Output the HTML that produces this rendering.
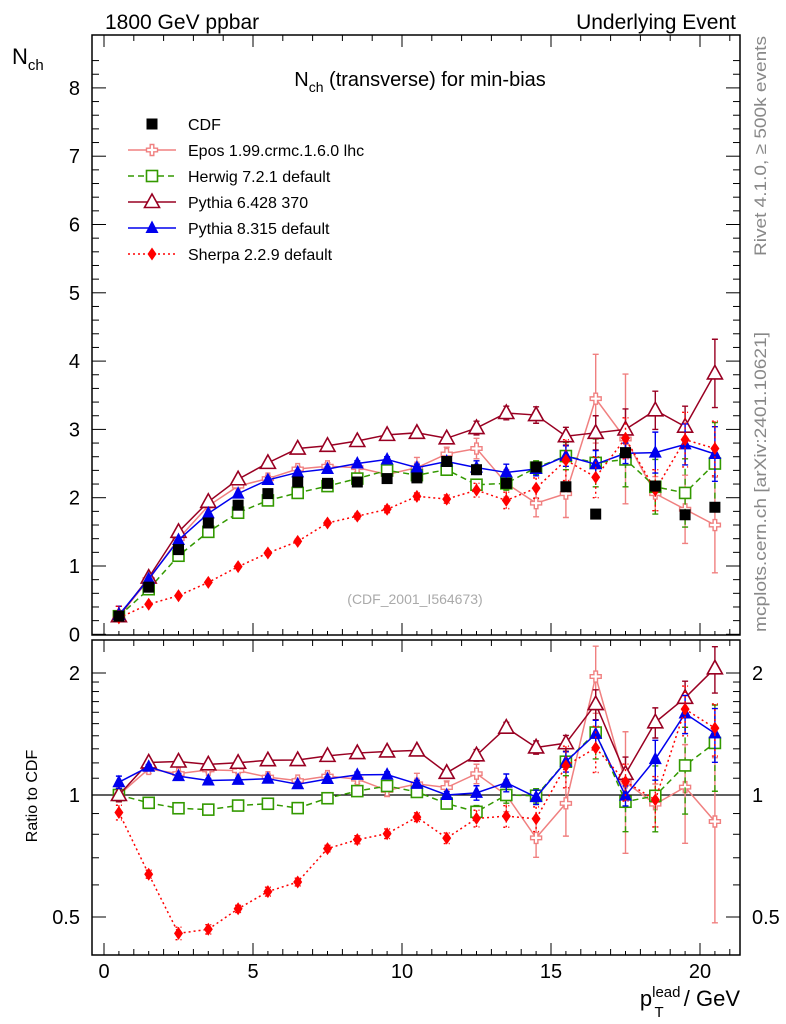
<!DOCTYPE html>
<html><head><meta charset="utf-8"><style>
body{margin:0;background:#fff;}
svg{display:block;font-family:"Liberation Sans",sans-serif;}
</style></head><body>
<svg id="chart" width="786" height="1024" viewBox="0 0 786 1024" xmlns="http://www.w3.org/2000/svg">
<g id="static">
<text x="105" y="29" font-size="21">1800 GeV ppbar</text>
<text x="736" y="29" font-size="21" text-anchor="end">Underlying Event</text>
<text x="12" y="64" font-size="22">N<tspan font-size="15" dy="6">ch</tspan></text>
<text x="420" y="86" font-size="20" text-anchor="middle">N<tspan font-size="14" dy="6">ch</tspan><tspan dy="-6"> (transverse) for min-bias</tspan></text>
<text x="415" y="604" font-size="14" fill="#aaa" text-anchor="middle">(CDF_2001_I564673)</text>
<text transform="translate(766,256) rotate(-90)" font-size="17" fill="#888" textLength="220" lengthAdjust="spacingAndGlyphs">Rivet 4.1.0, ≥ 500k events</text>
<text transform="translate(766,632) rotate(-90)" font-size="17" fill="#888" textLength="300" lengthAdjust="spacingAndGlyphs">mcplots.cern.ch [arXiv:2401.10621]</text>
<text transform="translate(37,796) rotate(-90)" font-size="16" text-anchor="middle">Ratio to CDF</text>
<text x="740" y="1006" font-size="22" text-anchor="end">p<tspan font-size="15" dy="-9">lead</tspan><tspan font-size="15" dx="-26" dy="20">T</tspan><tspan dy="-11" dx="14"> / GeV</tspan></text>
</g>
</svg>
<script>
const xCenters=[0.5,1.5,2.5,3.5,4.5,5.5,6.5,7.5,8.5,9.5,10.5,11.5,12.5,13.5,14.5,15.5,16.5,17.5,18.5,19.5,20.5];
const cdf=[0.265,0.69,1.24,1.63,1.89,2.06,2.23,2.21,2.23,2.28,2.29,2.53,2.41,2.21,2.45,2.16,1.76,2.66,2.17,1.75,1.86];
const epos=[0.265,0.80,1.40,1.88,2.17,2.28,2.42,2.46,2.44,2.34,2.44,2.64,2.72,2.21,1.92,2.06,3.45,2.86,2.06,1.83,1.60];
const eposErr=[0.01,0.02,0.02,0.03,0.03,0.04,0.04,0.05,0.06,0.08,0.15,0.1,0.15,0.2,0.2,0.35,0.65,0.95,0.25,0.5,0.7];
const herwig=[0.265,0.66,1.15,1.50,1.78,1.96,2.07,2.17,2.28,2.40,2.33,2.41,2.19,2.21,2.44,2.61,2.51,2.56,2.16,2.07,2.50];
const herwigErr=[0.01,0.01,0.02,0.02,0.02,0.03,0.03,0.03,0.04,0.05,0.05,0.05,0.08,0.1,0.1,0.2,0.35,0.4,0.4,0.5,0.6];
const pythia6=[0.265,0.83,1.50,1.94,2.27,2.51,2.72,2.76,2.83,2.92,2.95,2.87,3.02,3.24,3.21,2.90,2.95,3.00,3.28,3.04,3.82];
const pythia6Err=[0.01,0.01,0.02,0.02,0.02,0.03,0.03,0.03,0.04,0.04,0.05,0.05,0.1,0.1,0.12,0.13,0.25,0.3,0.28,0.3,0.5];
const pythia8=[0.285,0.81,1.38,1.77,2.06,2.26,2.37,2.42,2.50,2.56,2.44,2.53,2.44,2.37,2.42,2.61,2.49,2.65,2.66,2.78,2.64];
const pythia8Err=[0.01,0.01,0.02,0.02,0.02,0.03,0.03,0.03,0.04,0.04,0.05,0.05,0.1,0.12,0.1,0.15,0.2,0.15,0.3,0.3,0.4];
const sherpa=[0.24,0.44,0.565,0.76,0.99,1.19,1.36,1.63,1.73,1.83,2.02,1.98,2.11,1.96,2.14,2.55,2.30,2.87,2.11,2.85,2.72];
const sherpaErr=[0.01,0.01,0.02,0.02,0.02,0.03,0.03,0.03,0.04,0.05,0.05,0.06,0.1,0.12,0.15,0.3,0.3,0.3,0.3,0.4,0.4];
const mainTicks=[0,1,2,3,4,5,6,7,8];
const ratioTickLabels=[0.5,1,2];
const xTickLabels=[0,5,10,15,20];

const NS="http://www.w3.org/2000/svg";
const svg=document.getElementById('chart');
const L=92,R=740,MT=35,MB=635,RT=640,RB=955;
const X=v=>104+v*29.8;
const Y=v=>634.3-v*68.3;
const RY=r=>795-122*Math.log2(r);
function mk(tag,attrs,parent){const e=document.createElementNS(NS,tag);for(const k in attrs)e.setAttribute(k,attrs[k]);(parent||svg).appendChild(e);return e;}

let f1=mk('rect',{x:L,y:MT,width:R-L,height:MB-MT,fill:'none',stroke:'#000','stroke-width':1.5});


let f2=mk('rect',{x:L,y:RT,width:R-L,height:RB-RT,fill:'none',stroke:'#000','stroke-width':1.5});



for(let v=0;v<=21;v+=1){
  const big=v%5===0;const len=big?12:6;
  [MB,RB].forEach(b=>{const t=mk('line',{x1:X(v),x2:X(v),y1:b,y2:b-len,stroke:'#000'});
  
  });
  [MT,RT].forEach(b=>{const t=mk('line',{x1:X(v),x2:X(v),y1:b,y2:b+len,stroke:'#000'});
  
  });
}
for(let v=0.5;v<21;v+=1){[MB,RB].forEach(b=>{const t=mk('line',{x1:X(v),x2:X(v),y1:b,y2:b-4,stroke:'#000'});

});}
xTickLabels.forEach(v=>{const t=mk('text',{x:X(v),y:978,'font-size':20,'text-anchor':'middle'});t.textContent=v;

});

for(let v=0;v<=8.6;v+=0.2){const big=Math.abs(v-Math.round(v))<1e-6;const len=big?14:7;const y=Y(v);if(y<MT)continue;
  const a=mk('line',{x1:L,x2:L+len,y1:y,y2:y,stroke:'#000'});
  
  
  const b=mk('line',{x1:R,x2:R-len,y1:y,y2:y,stroke:'#000'});
  
  }
mainTicks.forEach(v=>{const t=mk('text',{x:80,y:Y(v)+7,'font-size':20,'text-anchor':'end'});t.textContent=v;

});

[0.5,0.6,0.7,0.8,0.9,1,1.1,1.2,1.3,1.4,1.5,1.6,1.7,1.8,1.9,2].forEach(r=>{const big=ratioTickLabels.includes(r);const len=big?14:7;const y=RY(r);
  const a=mk('line',{x1:L,x2:L+len,y1:y,y2:y,stroke:'#000'});
  
  
  const b=mk('line',{x1:R,x2:R-len,y1:y,y2:y,stroke:'#000'});
  
  });
ratioTickLabels.forEach(r=>{
  const t=mk('text',{x:80,y:RY(r)+7,'font-size':20,'text-anchor':'end'});t.textContent=r;
  
  
  const t2=mk('text',{x:752,y:RY(r)+7,'font-size':20});t2.textContent=r;
  
  });
const ref=mk('line',{x1:L,x2:R,y1:RY(1),y2:RY(1),stroke:'#000','stroke-width':1.2});



function marker(type,color,x,y,g){
  let e;
  if(type==='sq'){e=mk('rect',{x:x-5.5,y:y-5.5,width:11,height:11,fill:'#000'},g);}
  else if(type==='osq'){e=mk('rect',{x:x-5.5,y:y-5.5,width:11,height:11,fill:'#fff',stroke:color,'stroke-width':1.6},g);}
  else if(type==='otri'){e=mk('polygon',{points:`${x},${y-8} ${x-7.5},${y+5.5} ${x+7.5},${y+5.5}`,fill:'#fff',stroke:color,'stroke-width':1.6},g);}
  else if(type==='tri'){e=mk('polygon',{points:`${x},${y-7.5} ${x-6.5},${y+5} ${x+6.5},${y+5}`,fill:color},g);}
  else if(type==='dia'){e=mk('polygon',{points:`${x},${y-6.5} ${x-4.5},${y} ${x},${y+6.5} ${x+4.5},${y}`,fill:color},g);}
  else if(type==='cross'){e=mk('path',{d:`M${x-1.8},${y-5.5}h3.6v3.7h3.7v3.6h-3.7v3.7h-3.6v-3.7h-3.7v-3.6h3.7z`,fill:'#fff',stroke:color,'stroke-width':1.4},g);}
  
  
}
const series=[
 {name:'epos',label:'Epos 1.99.crmc.1.6.0 lhc',vals:epos,err:eposErr,color:'#f08080',dash:'',m:'cross'},
 {name:'herwig',label:'Herwig 7.2.1 default',vals:herwig,err:herwigErr,color:'#339900',dash:'6,4',m:'osq'},
 {name:'pythia6',label:'Pythia 6.428 370',vals:pythia6,err:pythia6Err,color:'#990022',dash:'',m:'otri'},
 {name:'pythia8',label:'Pythia 8.315 default',vals:pythia8,err:pythia8Err,color:'#0000ee',dash:'',m:'tri'},
 {name:'sherpa',label:'Sherpa 2.2.9 default',vals:sherpa,err:sherpaErr,color:'#ff0000',dash:'2,3',m:'dia'}
];
function drawSeries(s,yf,vals,errs,panel){
  const g=mk('g',{});
  
  
  vals.forEach((v,i)=>{const x=X(xCenters[i]);const e=errs[i];
    const eb=mk('path',{d:`M${x},${yf(v+e)}V${yf(Math.max(v-e,0.41))}M${x-3},${yf(v+e)}h6M${x-3},${yf(Math.max(v-e,0.41))}h6`,stroke:s.color,'stroke-width':1.4,fill:'none','stroke-dasharray':s.dash},g);
    
    });
  const pts=vals.map((v,i)=>X(xCenters[i])+','+yf(v)).join(' ');
  const pl=mk('polyline',{points:pts,fill:'none',stroke:s.color,'stroke-width':1.5,'stroke-dasharray':s.dash},g);
  
  
  vals.forEach((v,i)=>marker(s.m,s.color,X(xCenters[i]),yf(v),g));
}
series.forEach(s=>{
  drawSeries(s,Y,s.vals,s.err,'main');
  drawSeries(s,RY,s.vals.map((v,i)=>v/cdf[i]),s.err.map((e,i)=>e/cdf[i]),'ratio');
});
const cg=mk('g',{});


cdf.forEach((v,i)=>marker('sq','#000',X(xCenters[i]),Y(v),cg));

const lg=mk('g',{});


const ly=[124,150,176,202,228,254];
const e0=mk('g',{},lg);


marker('sq','#000',152,ly[0],e0);
const t0=mk('text',{x:188,y:ly[0]+6,'font-size':16},e0);t0.textContent='CDF';
series.forEach((s,i)=>{const y=ly[i+1];
  const eg=mk('g',{},lg);
  
  
  mk('line',{x1:128,x2:176,y1:y,y2:y,stroke:s.color,'stroke-width':1.5,'stroke-dasharray':s.dash},eg);
  marker(s.m,s.color,152,y,eg);
  const t=mk('text',{x:188,y:y+6,'font-size':16},eg);t.textContent=s.label;});
</script>
</body></html>
